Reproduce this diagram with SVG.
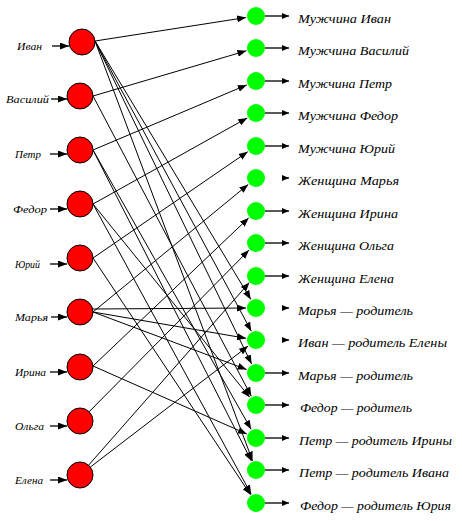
<svg xmlns="http://www.w3.org/2000/svg" width="462" height="521" viewBox="0 0 462 521">
<defs>
<marker id="ah" markerUnits="userSpaceOnUse" markerWidth="9" markerHeight="7" refX="9" refY="3.5" orient="auto"><path d="M0,0 L9,3.5 L0,7 z" fill="#000"/></marker>
<marker id="sm" markerUnits="userSpaceOnUse" markerWidth="7" markerHeight="6" refX="7" refY="3" orient="auto"><path d="M0,0 L7,3 L0,6 z" fill="#000"/></marker>
</defs>
<style>
.r{fill:#ff0000;stroke:#000;stroke-width:1}
.g{fill:#00ff00;stroke:none}
.c line{stroke:#000;stroke-width:1;fill:none;marker-end:url(#ah)}
.in{stroke:#000;stroke-width:1.3;marker-end:url(#ah)}
.out{stroke:#000;stroke-width:1.3;marker-end:url(#sm)}
.tl{font-family:"Liberation Serif",serif;font-style:italic;font-size:11px;fill:#000}
.tr{font-family:"Liberation Serif",serif;font-style:italic;font-size:12.5px;fill:#000}
</style>
<rect width="462" height="521" fill="#fff"/>
<g id="connectors" class="c">
<line x1="95" y1="41" x2="246.1" y2="17.5"/>
<line x1="95" y1="41" x2="250.8" y2="299.4"/>
<line x1="95" y1="41" x2="251.3" y2="331.2"/>
<line x1="95" y1="41" x2="251.6" y2="364"/>
<line x1="95" y1="41" x2="252.5" y2="460.6"/>
<line x1="93" y1="96" x2="246.4" y2="50.8"/>
<line x1="93" y1="96" x2="251.3" y2="396.2"/>
<line x1="93" y1="150" x2="246.8" y2="84.9"/>
<line x1="93" y1="150" x2="251.1" y2="429.3"/>
<line x1="93" y1="150" x2="251.5" y2="461.1"/>
<line x1="93" y1="204" x2="247.3" y2="117.9"/>
<line x1="93" y1="204" x2="249.7" y2="397.2"/>
<line x1="93" y1="204" x2="251.2" y2="494.2"/>
<line x1="93" y1="258" x2="247.8" y2="151.7"/>
<line x1="93" y1="258" x2="250.5" y2="494.7"/>
<line x1="93" y1="312" x2="248.3" y2="184.4"/>
<line x1="93" y1="309" x2="246" y2="308"/>
<line x1="93" y1="312" x2="246.1" y2="338.3"/>
<line x1="93" y1="312" x2="246.6" y2="369.5"/>
<line x1="93" y1="366" x2="248.7" y2="217.9"/>
<line x1="93" y1="366" x2="246.9" y2="434"/>
<line x1="89.1" y1="411.8" x2="249" y2="250.1"/>
<line x1="88.6" y1="465.2" x2="249.4" y2="282.5"/>
<line x1="90.3" y1="467.1" x2="248.1" y2="346.1"/>
</g>
<g id="in-ivan"><text class="tl" x="17" y="50" textLength="25" lengthAdjust="spacingAndGlyphs">Иван</text><line class="in" x1="52" y1="46" x2="69" y2="46"/><circle class="r" cx="82" cy="42" r="13"/></g>
<g id="in-vasiliy"><text class="tl" x="6" y="103" textLength="43" lengthAdjust="spacingAndGlyphs">Василий</text><line class="in" x1="51" y1="99" x2="67" y2="99"/><circle class="r" cx="80" cy="96" r="13"/></g>
<g id="in-petr"><text class="tl" x="15" y="158" textLength="26" lengthAdjust="spacingAndGlyphs">Петр</text><line class="in" x1="50" y1="154" x2="67" y2="154"/><circle class="r" cx="80" cy="150" r="13"/></g>
<g id="in-fedor"><text class="tl" x="13" y="213" textLength="34" lengthAdjust="spacingAndGlyphs">Федор</text><line class="in" x1="50" y1="209" x2="67" y2="209"/><circle class="r" cx="80" cy="204" r="13"/></g>
<g id="in-yuriy"><text class="tl" x="15" y="268" textLength="25" lengthAdjust="spacingAndGlyphs">Юрий</text><line class="in" x1="50" y1="264" x2="67" y2="264"/><circle class="r" cx="80" cy="258" r="13"/></g>
<g id="in-marya"><text class="tl" x="15" y="321" textLength="33" lengthAdjust="spacingAndGlyphs">Марья</text><line class="in" x1="51" y1="317" x2="67" y2="317"/><circle class="r" cx="80" cy="312" r="13"/></g>
<g id="in-irina"><text class="tl" x="15" y="376" textLength="31" lengthAdjust="spacingAndGlyphs">Ирина</text><line class="in" x1="50" y1="372" x2="67" y2="372"/><circle class="r" cx="80" cy="367" r="13"/></g>
<g id="in-olga"><text class="tl" x="15" y="430" textLength="29" lengthAdjust="spacingAndGlyphs">Ольга</text><line class="in" x1="50" y1="426" x2="67" y2="426"/><circle class="r" cx="80" cy="421" r="13"/></g>
<g id="in-elena"><text class="tl" x="15" y="484" textLength="28" lengthAdjust="spacingAndGlyphs">Елена</text><line class="in" x1="50" y1="480" x2="67" y2="480"/><circle class="r" cx="80" cy="475" r="13"/></g>
<g id="out-1"><circle class="g" cx="256" cy="16" r="9"/><line class="out" x1="265" y1="16" x2="289" y2="16"/><text class="tr" x="298" y="22.5" textLength="93" lengthAdjust="spacingAndGlyphs">Мужчина Иван</text></g>
<g id="out-2"><circle class="g" cx="256" cy="48" r="9"/><line class="out" x1="265" y1="48" x2="289" y2="48"/><text class="tr" x="298" y="54.5" textLength="111" lengthAdjust="spacingAndGlyphs">Мужчина Василий</text></g>
<g id="out-3"><circle class="g" cx="256" cy="81" r="9"/><line class="out" x1="265" y1="81" x2="289" y2="81"/><text class="tr" x="298" y="87.5" textLength="94" lengthAdjust="spacingAndGlyphs">Мужчина Петр</text></g>
<g id="out-4"><circle class="g" cx="256" cy="113" r="9"/><line class="out" x1="265" y1="113" x2="289" y2="113"/><text class="tr" x="298" y="119.5" textLength="100" lengthAdjust="spacingAndGlyphs">Мужчина Федор</text></g>
<g id="out-5"><circle class="g" cx="256" cy="146" r="9"/><line class="out" x1="265" y1="146" x2="289" y2="146"/><text class="tr" x="298" y="152.5" textLength="97" lengthAdjust="spacingAndGlyphs">Мужчина Юрий</text></g>
<g id="out-6"><circle class="g" cx="256" cy="178" r="9"/><line class="out" x1="283" y1="178" x2="289" y2="178"/><text class="tr" x="298" y="184.5" textLength="101" lengthAdjust="spacingAndGlyphs">Женщина Марья</text></g>
<g id="out-7"><circle class="g" cx="256" cy="211" r="9"/><line class="out" x1="265" y1="211" x2="289" y2="211"/><text class="tr" x="298" y="217.5" textLength="100" lengthAdjust="spacingAndGlyphs">Женщина Ирина</text></g>
<g id="out-8"><circle class="g" cx="256" cy="243" r="9"/><line class="out" x1="265" y1="243" x2="289" y2="243"/><text class="tr" x="298" y="249.5" textLength="96" lengthAdjust="spacingAndGlyphs">Женщина Ольга</text></g>
<g id="out-9"><circle class="g" cx="256" cy="276" r="9"/><line class="out" x1="265" y1="276" x2="289" y2="276"/><text class="tr" x="298" y="282.5" textLength="96" lengthAdjust="spacingAndGlyphs">Женщина Елена</text></g>
<g id="out-10"><circle class="g" cx="256" cy="308" r="9"/><line class="out" x1="283" y1="308" x2="289" y2="308"/><text class="tr" x="298" y="314.5" textLength="115" lengthAdjust="spacingAndGlyphs">Марья — родитель</text></g>
<g id="out-11"><circle class="g" cx="256" cy="340" r="9"/><line class="out" x1="283" y1="340" x2="289" y2="340"/><text class="tr" x="298" y="346.5" textLength="149" lengthAdjust="spacingAndGlyphs">Иван — родитель Елены</text></g>
<g id="out-12"><circle class="g" cx="256" cy="373" r="9"/><line class="out" x1="265" y1="373" x2="289" y2="373"/><text class="tr" x="298" y="379.5" textLength="115" lengthAdjust="spacingAndGlyphs">Марья — родитель</text></g>
<g id="out-13"><circle class="g" cx="256" cy="405" r="9"/><line class="out" x1="265" y1="405" x2="289" y2="405"/><text class="tr" x="300" y="411.5" textLength="112" lengthAdjust="spacingAndGlyphs">Федор — родитель</text></g>
<g id="out-14"><circle class="g" cx="256" cy="438" r="9"/><line class="out" x1="265" y1="438" x2="289" y2="438"/><text class="tr" x="299" y="444.5" textLength="153" lengthAdjust="spacingAndGlyphs">Петр — родитель Ирины</text></g>
<g id="out-15"><circle class="g" cx="256" cy="470" r="9"/><line class="out" x1="265" y1="470" x2="289" y2="470"/><text class="tr" x="299" y="476.5" textLength="150" lengthAdjust="spacingAndGlyphs">Петр — родитель Ивана</text></g>
<g id="out-16"><circle class="g" cx="256" cy="503" r="9"/><line class="out" x1="265" y1="503" x2="289" y2="503"/><text class="tr" x="300" y="509.5" textLength="151" lengthAdjust="spacingAndGlyphs">Федор — родитель Юрия</text></g>
</svg>
